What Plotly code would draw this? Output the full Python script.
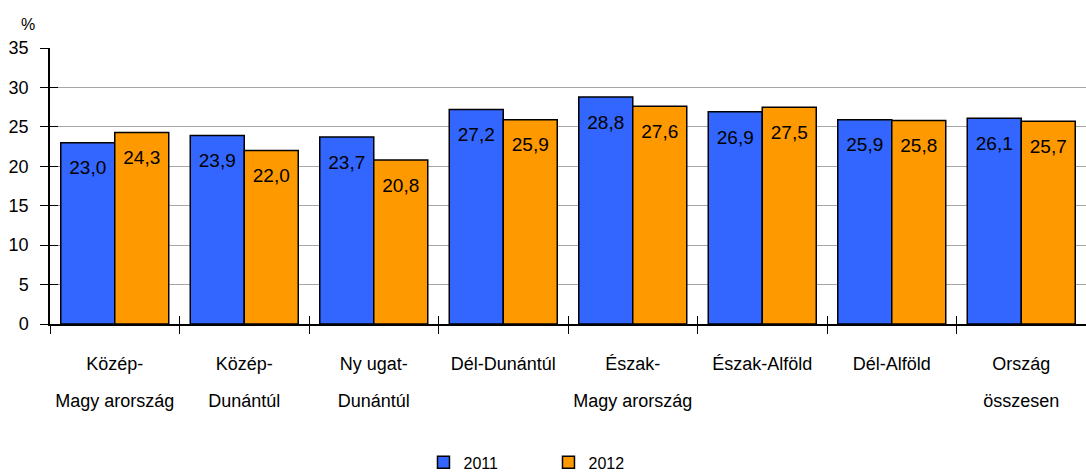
import plotly.graph_objects as go

categories = ["Közép-Magyarország", "Közép-Dunántúl", "Nyugat-Dunántúl", "Dél-Dunántúl",
              "Észak-Magyarország", "Észak-Alföld", "Dél-Alföld", "Ország összesen"]
label_line1 = ["Közép-", "Közép-", "Ny ugat-", "Dél-Dunántúl", "Észak-", "Észak-Alföld", "Dél-Alföld", "Ország"]
label_line2 = ["Magy arország", "Dunántúl", "Dunántúl", "", "Magy arország", "", "", "összesen"]
values_2011 = [23.0, 23.9, 23.7, 27.2, 28.8, 26.9, 25.9, 26.1]
values_2012 = [24.3, 22.0, 20.8, 25.9, 27.6, 27.5, 25.8, 25.7]
y_ticks = [0, 5, 10, 15, 20, 25, 30, 35]

FONT = "Liberation Sans, Arial, sans-serif"

def fmt(v):
    return "<span style='font-size:4px'>\u00a0</span><br>" + f"{v:.1f}".replace(".", ",")

fig = go.Figure()
for name, vals, color in [("2011", values_2011, "#3366FF"), ("2012", values_2012, "#FF9900")]:
    fig.add_trace(go.Bar(
        x=categories, y=vals, name=name,
        marker=dict(color=color, line=dict(color="black", width=1.5)),
        text=[fmt(v) for v in vals], textposition="inside", insidetextanchor="end",
        textfont=dict(family=FONT, size=19, color="black"),
        textangle=0, cliponaxis=False,
    ))

# invisible helper trace for overlay axes (crossing ticks and second label line)
fig.add_trace(go.Scatter(x=categories, y=values_2011, xaxis="x2", yaxis="y2",
                         mode="markers", marker=dict(opacity=0), showlegend=False,
                         hoverinfo="skip"))

fig.update_layout(
    width=1086, height=474,
    margin=dict(l=50, r=0, t=48, b=150, autoexpand=False),
    paper_bgcolor="white", plot_bgcolor="white",
    barmode="group", bargap=0.166, bargroupgap=0,
    font=dict(family=FONT, size=17, color="black"),
    showlegend=True,
    legend=dict(orientation="h", x=0.3605, xanchor="left", y=-0.44, yanchor="top",
                entrywidth=80, entrywidthmode="pixels",
                font=dict(family=FONT, size=16, color="black"), itemwidth=30),
    xaxis=dict(type="category", categoryorder="array", categoryarray=categories,
               tickmode="array", tickvals=categories, ticktext=label_line1,
               tickson="boundaries", ticks="outside", ticklen=8, tickcolor="black",
               showline=True, linecolor="black", linewidth=1.5, automargin=False,
               range=[-0.5, 7.5], ticklabelstandoff=23,
               tickfont=dict(family=FONT, size=18, color="black")),
    xaxis2=dict(type="category", overlaying="x", matches="x", categoryorder="array",
                categoryarray=categories, tickmode="array", tickvals=categories,
                ticktext=label_line2, tickson="boundaries", ticks="inside", ticklen=8,
                tickcolor="black", showline=False, showgrid=False, side="bottom",
                automargin=False, ticklabelstandoff=64,
                tickfont=dict(family=FONT, size=18, color="black")),
    yaxis=dict(range=[0, 35], tickvals=y_ticks, ticks="outside", ticklen=8,
               tickcolor="black", showline=True, linecolor="black", linewidth=1.5,
               showgrid=True, gridcolor="#A6A6A6", gridwidth=1.2, zeroline=False,
               ticklabelstandoff=8, automargin=False,
               tickfont=dict(family=FONT, size=18, color="black")),
    yaxis2=dict(range=[0, 35], overlaying="y", matches="y", tickvals=y_ticks,
                ticks="inside", ticklen=8, tickcolor="black", showticklabels=False,
                showgrid=False, showline=False, zeroline=False, side="left",
                automargin=False),
    annotations=[dict(text="%", xref="paper", yref="paper", x=-0.021, y=1.085,
                      xanchor="center", yanchor="middle", showarrow=False,
                      font=dict(family=FONT, size=16, color="black"))],
)

fig.write_html("out.html", config={"displayModeBar": False},
               post_script="document.body.style.margin='0';")
